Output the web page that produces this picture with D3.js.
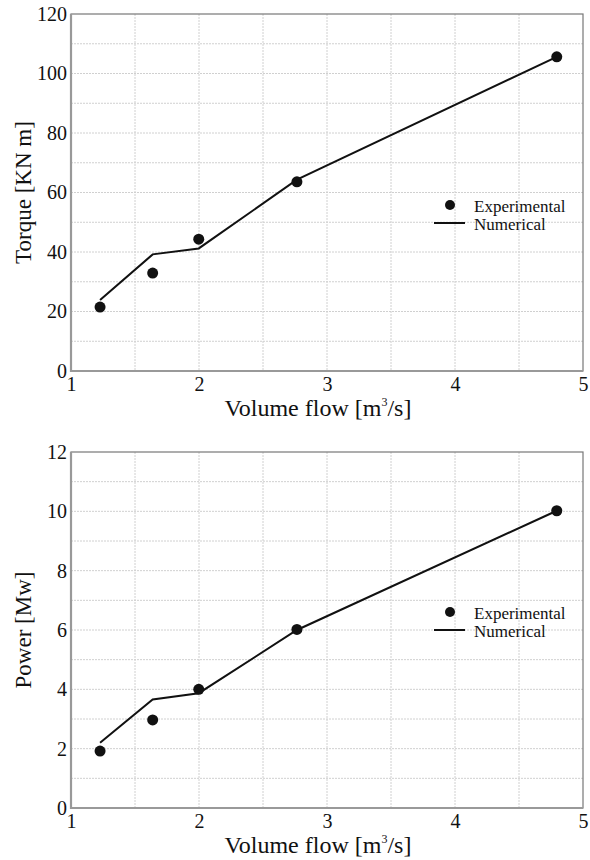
<!DOCTYPE html>
<html>
<head>
<meta charset="utf-8">
<script src="https://cdn.jsdelivr.net/npm/d3@7"></script>
<style>
  body { margin: 0; background: #fff; }
</style>
</head>
<body>
<script>
// volume flow values for the measured points
const flowExp = [1.227, 1.638, 1.998, 2.765, 4.795];
const torqueExp = [21.5, 32.9, 44.3, 63.6, 105.6];
const powerExp = [1.92, 2.97, 4.0, 6.02, 10.02];

// numerical curve
const flowNum = [1.227, 1.638, 1.998, 2.765, 4.795];
const torqueNum = [23.9, 39.2, 41.2, 64.3, 105.6];
const powerNum = [2.2, 3.66, 3.87, 6.0, 10.02];

const xTicks = [1, 2, 3, 4, 5];
const torqueTicks = [0, 20, 40, 60, 80, 100, 120];
const powerTicks = [0, 2, 4, 6, 8, 10, 12];

const width = 590, height = 860;
const svg = d3.select("body").append("svg")
    .attr("width", width)
    .attr("height", height);

function drawPanel(top, bottom, yMax, yTicks, yGridStep, yLabel, expY, numY, legendY) {
    const left = 71, right = 583;
    const x = d3.scaleLinear().domain([1, 5]).range([left, right]);
    const y = d3.scaleLinear().domain([0, yMax]).range([bottom, top]);
    const g = svg.append("g");

    // grid
    const xGrid = d3.range(1.5, 5, 0.5);
    const yGrid = d3.range(yGridStep, yMax, yGridStep);
    g.selectAll(".gx").data(xGrid).enter().append("line")
        .attr("x1", d => x(d)).attr("x2", d => x(d))
        .attr("y1", top).attr("y2", bottom)
        .attr("stroke", "#d0d0d0").attr("stroke-width", 1)
        .attr("stroke-dasharray", "2,1");
    g.selectAll(".gy").data(yGrid).enter().append("line")
        .attr("x1", left).attr("x2", right)
        .attr("y1", d => y(d)).attr("y2", d => y(d))
        .attr("stroke", "#d0d0d0").attr("stroke-width", 1)
        .attr("stroke-dasharray", "2,1");

    // frame
    g.append("rect")
        .attr("x", left).attr("y", top)
        .attr("width", right - left).attr("height", bottom - top)
        .attr("fill", "none").attr("stroke", "#777").attr("stroke-width", 1.2);
    g.append("path")
        .attr("d", `M${left},${top}V${bottom}H${right}`)
        .attr("fill", "none").attr("stroke", "#999").attr("stroke-width", 2.2);

    // axes (labels only)
    const xAxis = g.append("g")
        .attr("transform", `translate(0,${bottom})`)
        .call(d3.axisBottom(x).tickValues(xTicks).tickSize(0).tickPadding(6).tickFormat(d3.format("d")));
    xAxis.select(".domain").remove();
    xAxis.selectAll("text").attr("font-size", 20);

    const yAxis = g.append("g")
        .attr("transform", `translate(${left},0)`)
        .call(d3.axisLeft(y).tickValues(yTicks).tickSize(0).tickPadding(4).tickFormat(d3.format("d")));
    yAxis.select(".domain").remove();
    yAxis.selectAll("text").attr("font-size", 20);

    // numerical line
    const line = d3.line().x(d => x(d[0])).y(d => y(d[1]));
    g.append("path")
        .datum(flowNum.map((f, i) => [f, numY[i]]))
        .attr("d", line)
        .attr("fill", "none").attr("stroke", "#111").attr("stroke-width", 2);

    // experimental points
    g.selectAll(".pt").data(flowExp.map((f, i) => [f, expY[i]])).enter().append("circle")
        .attr("cx", d => x(d[0])).attr("cy", d => y(d[1]))
        .attr("r", 5.5).attr("fill", "#111");

    // legend
    g.append("circle").attr("cx", 450).attr("cy", legendY).attr("r", 5).attr("fill", "#111");
    g.append("text").attr("x", 474).attr("y", legendY + 7).attr("font-size", 17).text("Experimental");
    g.append("line").attr("x1", 434).attr("x2", 465)
        .attr("y1", legendY + 18).attr("y2", legendY + 18)
        .attr("stroke", "#111").attr("stroke-width", 2);
    g.append("text").attr("x", 474).attr("y", legendY + 25).attr("font-size", 17).text("Numerical");

    // axis titles
    const xt = g.append("text")
        .attr("x", (left + right) / 2 - 9).attr("y", bottom + 45)
        .attr("text-anchor", "middle").attr("font-size", 24);
    xt.append("tspan").text("Volume flow [m");
    xt.append("tspan").attr("font-size", 12).attr("dy", -10).text("3");
    xt.append("tspan").attr("dy", 10).text("/s]");

    g.append("text")
        .attr("transform", `translate(31,${(top + bottom) / 2}) rotate(-90)`)
        .attr("text-anchor", "middle").attr("font-size", 23)
        .text(yLabel);
}

drawPanel(14, 371, 120, torqueTicks, 10, "Torque [KN m]", torqueExp, torqueNum, 205);
drawPanel(452, 808, 12, powerTicks, 1, "Power [Mw]", powerExp, powerNum, 612);

// serif everywhere, inline so nothing overrides it
svg.selectAll("text")
    .style("font-family", "'Liberation Serif', 'Times New Roman', serif")
    .style("fill", "#111");
</script>
</body>
</html>
